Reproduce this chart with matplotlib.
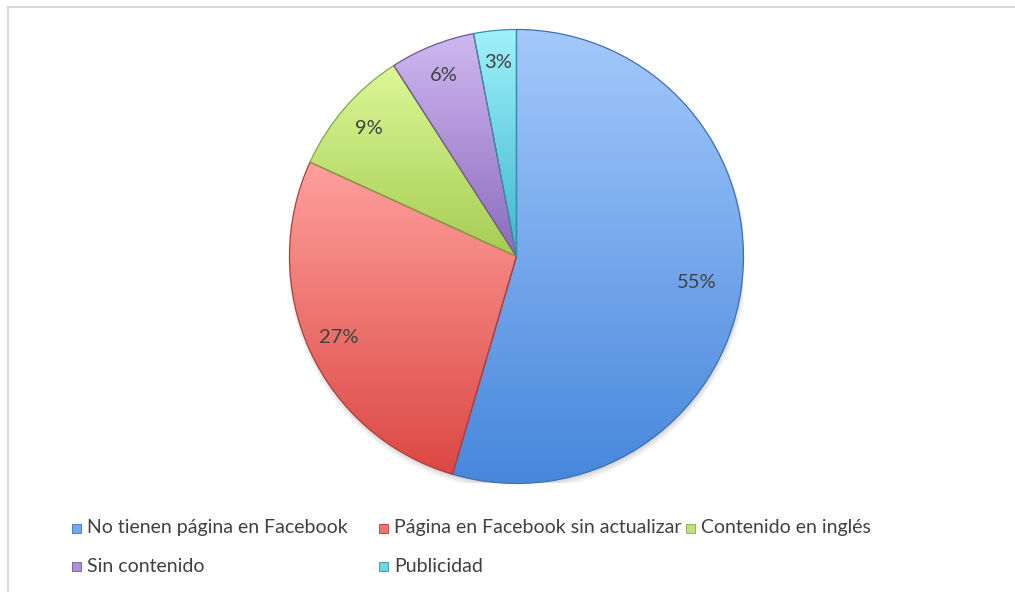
import numpy as np
import matplotlib
matplotlib.use("Agg")
import matplotlib.pyplot as plt
from matplotlib.colors import LinearSegmentedColormap, to_rgb
from matplotlib.patches import Circle, Rectangle
from matplotlib.lines import Line2D

plt.rcParams['font.family'] = ['Lato', 'DejaVu Sans']

# datos (conteos: 55%, 27%, 9%, 6%, 3%)
categorias = ["No tienen página en Facebook", "Página en Facebook sin actualizar",
              "Contenido en inglés", "Sin contenido", "Publicidad"]
conteos = [18, 9, 3, 2, 1]
# colores degradados (arriba, abajo) estilo Excel
color_arriba = ["#a4c9fc", "#ffa09d", "#dcf896", "#cfb8f1", "#a0f1fc"]
color_abajo = ["#4787dc", "#dc4843", "#a6cc55", "#8c6bbd", "#3db6ce"]
color_borde = ["#3f6fae", "#b23c38", "#86a644", "#6f5598", "#3391a5"]

W, H = 1015, 592
fig = plt.figure(figsize=(W / 100, H / 100), dpi=100)
ax = fig.add_axes([0.2852, 0.1833, 0.4473, 0.7669])

# sombra suave bajo el pastel
for k, a in enumerate([0.06, 0.05, 0.04]):
    ax.add_patch(Circle((0.004, -0.012 - 0.004 * k), 1.0 + 0.006 * k,
                        facecolor="#000000", alpha=a, edgecolor="none", zorder=0))

wedges, _, autotexts = ax.pie(
    conteos, startangle=90, counterclock=False, autopct="%1.0f%%",
    pctdistance=0.86, labels=None,
    wedgeprops=dict(linewidth=0.9),
    textprops=dict(fontsize=14.5, color="#404040"))

# relleno en degradado vertical para cada porción
for w, c0, c1, ce in zip(wedges, color_arriba, color_abajo, color_borde):
    bb = w.get_path().get_extents()
    cmap = LinearSegmentedColormap.from_list("g", [c1, c0])
    grad = np.linspace(0, 1, 256).reshape(-1, 1)
    im = ax.imshow(grad, cmap=cmap, origin="lower", aspect="auto",
                   extent=[bb.x0, bb.x1, bb.y0, bb.y1], zorder=1)
    im.set_clip_path(w)
    w.set_facecolor("none")
    w.set_edgecolor(ce)
    w.set_zorder(2)

for t in autotexts:
    t.set_zorder(3)
# la etiqueta de 55% queda algo más hacia el centro
x, y = autotexts[0].get_position()
autotexts[0].set_position((x * 0.80 / 0.86, y * 0.80 / 0.86))

ax.set_xlim(-1.0, 1.0)
ax.set_ylim(-1.0, 1.0)
ax.set_aspect("auto")
ax.axis("off")

# leyenda estilo Excel: rejilla de columnas de igual ancho, llenada por filas
leg_x0, leg_col_w, leg_rows_y = 72, 307, [528, 566]
marca = 9
for i, (nombre, a, b, e) in enumerate(zip(categorias, color_arriba, color_abajo, color_borde)):
    fila, col = divmod(i, 3)
    px = leg_x0 + col * leg_col_w
    py = leg_rows_y[fila]
    media = (np.array(to_rgb(a)) + np.array(to_rgb(b))) / 2
    fig.add_artist(Rectangle((px / W, 1 - (py + marca / 2) / H), marca / W, marca / H,
                             transform=fig.transFigure, facecolor=media,
                             edgecolor=e, linewidth=0.6))
    fig.text((px + 15) / W, 1 - py / H, nombre, fontsize=14, color="#404040",
             ha="left", va="center")

# borde del área del gráfico (solo arriba e izquierda visibles)
x0 = 7.5 / W
y1 = 1 - 6.5 / H
fig.add_artist(Line2D([x0, x0], [0, y1], transform=fig.transFigure,
                      color="#d9d9d9", linewidth=1.5))
fig.add_artist(Line2D([x0, 1], [y1, y1], transform=fig.transFigure,
                      color="#d9d9d9", linewidth=1.5))

fig.savefig("out.png", dpi=100)
